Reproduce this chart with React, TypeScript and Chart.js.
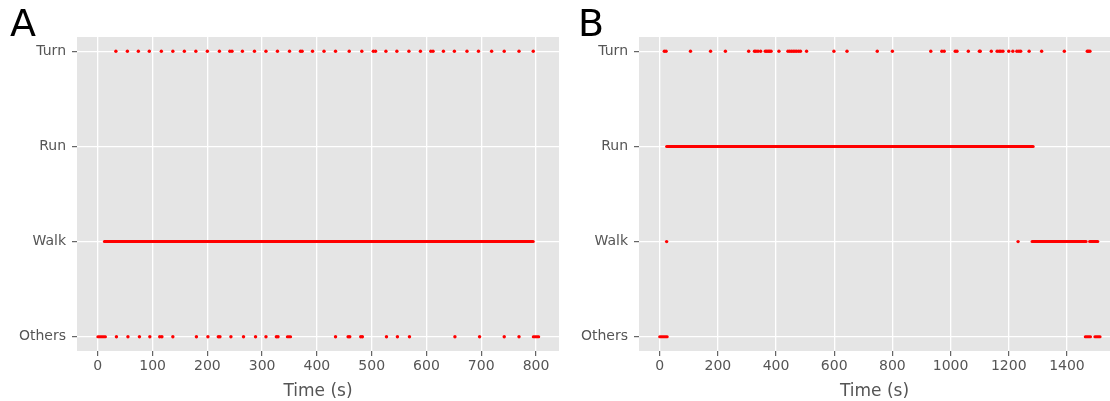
import { useEffect, useRef } from 'react';
import { Chart, registerables } from 'chart.js';

Chart.register(...registerables);

const FONT = '"DejaVu Sans", sans-serif';
const RED = '#FF0000';
const INK = '#555555';

// Behaviour levels, bottom to top
const levelLabels = ['Others', 'Walk', 'Run', 'Turn'];

// Panel A: event times (s)
const aTurnTimes = [33, 54, 74, 94, 116, 137, 158, 179, 200, 222, 241, 245, 264, 286, 307, 328, 350, 370, 373, 392, 413, 434, 459, 482, 503, 507, 526, 546, 568, 589, 608, 612, 631, 651, 674, 695, 719, 742, 769, 795];
const aWalkSpans: [number, number][] = [[12, 795]];
const aRunTimes: number[] = [];
const aOthersTimes = [34, 55, 76, 95, 113, 117, 137, 180, 201, 220, 223, 243, 266, 288, 307, 326, 329, 434, 457, 460, 480, 483, 527, 547, 569, 652, 697, 742, 769];
const aOthersSpans: [number, number][] = [[0, 14], [346, 352], [795, 805]];
const aXTicks = [0, 100, 200, 300, 400, 500, 600, 700, 800];

// Panel B: event times (s)
const bTurnTimes = [16, 22, 106, 175, 226, 306, 326, 331, 338, 347, 363, 368, 373, 378, 383, 410, 441, 447, 453, 459, 465, 471, 478, 484, 505, 599, 644, 748, 800, 932, 970, 978, 1016, 1022, 1061, 1099, 1102, 1140, 1160, 1167, 1173, 1180, 1200, 1214, 1228, 1235, 1241, 1270, 1313, 1391, 1470, 1474, 1479];
const bRunSpans: [number, number][] = [[24, 1284]];
const bWalkTimes = [24, 1232];
const bWalkSpans: [number, number][] = [[1280, 1466], [1478, 1506]];
const bOthersSpans: [number, number][] = [[0, 26], [1463, 1481], [1496, 1514]];
const bXTicks = [0, 200, 400, 600, 800, 1000, 1200, 1400];

type Track = { level: number; times: number[]; spans: [number, number][] };

const panelBackground = {
  id: 'panelBackground',
  beforeDraw(chart: any) {
    const { ctx, chartArea: a } = chart;
    ctx.save();
    ctx.fillStyle = '#E5E5E5';
    ctx.fillRect(a.left, a.top, a.right - a.left, a.bottom - a.top);
    ctx.restore();
  },
};

const panelLetter = {
  id: 'panelLetter',
  afterDraw(chart: any, _args: any, opts: any) {
    const { ctx } = chart;
    ctx.save();
    ctx.fillStyle = '#000000';
    ctx.font = `38px ${FONT}`;
    ctx.textBaseline = 'alphabetic';
    ctx.textAlign = 'left';
    ctx.fillText(opts.text, opts.x, opts.y);
    ctx.restore();
  },
};

function buildDatasets(tracks: Track[]) {
  const sets: any[] = [];
  tracks.forEach((t) => {
    t.spans.forEach(([s, e]) => {
      sets.push({
        data: [{ x: s, y: t.level }, { x: e, y: t.level }],
        showLine: true,
        borderColor: RED,
        borderWidth: 3,
        borderCapStyle: 'round',
        pointRadius: 0,
      });
    });
    if (t.times.length) {
      sets.push({
        data: t.times.map((x) => ({ x, y: t.level })),
        showLine: false,
        pointRadius: 1.7,
        pointBorderWidth: 0,
        pointBackgroundColor: RED,
        borderColor: RED,
      });
    }
  });
  return sets;
}

function axisGrid() {
  return {
    color: '#FFFFFF',
    lineWidth: 1.3,
    drawTicks: true,
    tickLength: 5,
    tickColor: INK,
    tickWidth: 1.1,
  };
}

type PanelProps = {
  letter: string;
  letterX: number;
  tracks: Track[];
  xMin: number;
  xMax: number;
  xTicks: number[];
  width: number;
  yAxisWidth: number;
  padRight: number;
  left: number;
};

function Panel(p: PanelProps) {
  const ref = useRef<HTMLCanvasElement>(null);
  useEffect(() => {
    if (!ref.current) return;
    const chart = new Chart(ref.current, {
      type: 'scatter',
      data: { datasets: buildDatasets(p.tracks) },
      plugins: [panelBackground, panelLetter],
      options: {
        animation: false,
        responsive: false,
        devicePixelRatio: 1,
        layout: { autoPadding: false, padding: { top: 37, left: 0, right: p.padRight, bottom: 0 } },
        plugins: {
          legend: { display: false },
          tooltip: { enabled: false },
          panelLetter: { text: p.letter, x: p.letterX, y: 36 },
        } as any,
        scales: {
          x: {
            type: 'linear',
            min: p.xMin,
            max: p.xMax,
            afterBuildTicks: (s: any) => {
              s.ticks = p.xTicks.map((v) => ({ value: v }));
            },
            afterFit: (s: any) => {
              s.height = 50;
            },
            grid: axisGrid(),
            border: { display: false },
            ticks: {
              color: INK,
              font: { family: FONT, size: 14 },
              padding: 2,
              maxRotation: 0,
              autoSkip: false,
              callback: (v: any) => String(v),
            },
            title: {
              display: true,
              text: 'Time (s)',
              color: INK,
              font: { family: FONT, size: 17 },
              padding: { top: 0, bottom: -1 },
            },
          },
          y: {
            type: 'linear',
            min: -0.15,
            max: 3.15,
            afterBuildTicks: (s: any) => {
              s.ticks = levelLabels.map((_, i) => ({ value: i }));
            },
            afterFit: (s: any) => {
              s.width = p.yAxisWidth;
            },
            grid: axisGrid(),
            border: { display: false },
            ticks: {
              color: INK,
              font: { family: FONT, size: 14 },
              padding: 6,
              autoSkip: false,
              callback: (v: any) => levelLabels[Math.round(Number(v))] ?? '',
            },
          },
        },
      } as any,
    });
    return () => chart.destroy();
  }, []);
  return (
    <canvas
      ref={ref}
      width={p.width}
      height={401}
      style={{ position: 'absolute', left: p.left, top: 0, width: p.width, height: 401, display: 'block' }}
    />
  );
}

export default function App() {
  const tracksA: Track[] = [
    { level: 0, times: aOthersTimes, spans: aOthersSpans },
    { level: 1, times: [], spans: aWalkSpans },
    { level: 2, times: aRunTimes, spans: [] },
    { level: 3, times: aTurnTimes, spans: [] },
  ];
  const tracksB: Track[] = [
    { level: 0, times: [], spans: bOthersSpans },
    { level: 1, times: bWalkTimes, spans: bWalkSpans },
    { level: 2, times: [], spans: bRunSpans },
    { level: 3, times: bTurnTimes, spans: [] },
  ];
  return (
    <div style={{ position: 'absolute', left: 0, top: 0, width: 1110, height: 401, background: '#FFFFFF' }}>
      <Panel letter="A" letterX={10} tracks={tracksA} xMin={-38} xMax={842} xTicks={aXTicks} width={560} yAxisWidth={77} padRight={1} left={0} />
      <Panel letter="B" letterX={13} tracks={tracksB} xMin={-71} xMax={1548} xTicks={bXTicks} width={545} yAxisWidth={74} padRight={0} left={565} />
    </div>
  );
}
